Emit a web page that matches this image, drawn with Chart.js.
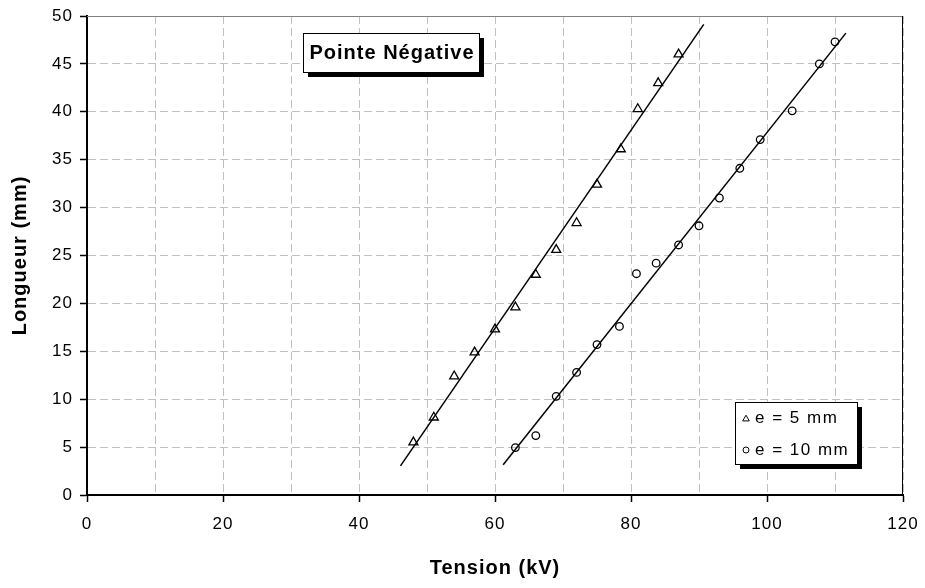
<!DOCTYPE html>
<html>
<head>
<meta charset="utf-8">
<script src="https://cdn.jsdelivr.net/npm/chart.js@4.4.1/dist/chart.umd.min.js"></script>
<style>
  html, body { margin: 0; padding: 0; background: #fff; }
  #wrap { width: 925px; height: 588px; }
</style>
</head>
<body>
<div id="wrap"><canvas id="chart" width="925" height="588"></canvas></div>
<script>
// data
const tension5 = [48, 51, 54, 57, 60, 63, 66, 69, 72, 75, 78.5, 81, 84, 87];
const longueur5 = [5.5, 8.1, 12.4, 14.9, 17.3, 19.6, 23.0, 25.6, 28.4, 32.4, 36.1, 40.3, 43.0, 46.0];
const tension10 = [63, 66, 69, 72, 75, 78.3, 80.8, 83.7, 87, 90, 93, 96, 99, 103.7, 107.7, 110];
const longueur10 = [4.95, 6.2, 10.3, 12.8, 15.7, 17.6, 23.1, 24.2, 26.1, 28.1, 31.0, 34.1, 37.1, 40.1, 45.0, 47.3];
const seriesLabels = ["e = 5 mm", "e = 10 mm"];
const chartTitle = "Pointe Négative";
const xTitle = "Tension (kV)";
const yTitle = "Longueur (mm)";
// trendline forecast (backward, forward) in kV, like Excel
const forecast5 = [1.9, 3.7];
const forecast10 = [1.8, 1.6];

const FONT = "Arial, 'Liberation Sans', sans-serif";

function zip(xs, ys) {
  return xs.map((v, i) => ({ x: v, y: ys[i] }));
}

// least squares line, drawn over the data range plus forecast
function trend(xs, ys, fc) {
  const n = xs.length;
  const mx = xs.reduce((a, b) => a + b, 0) / n;
  const my = ys.reduce((a, b) => a + b, 0) / n;
  let sxy = 0, sxx = 0;
  for (let i = 0; i < n; i++) {
    sxy += (xs[i] - mx) * (ys[i] - my);
    sxx += (xs[i] - mx) * (xs[i] - mx);
  }
  const b = sxy / sxx;
  const a = my - b * mx;
  const x0 = Math.min(...xs) - fc[0];
  const x1 = Math.max(...xs) + fc[1];
  return [{ x: x0, y: a + b * x0 }, { x: x1, y: a + b * x1 }];
}

function shadowBox(ctx, l, t, w, h) {
  ctx.fillStyle = "#000";
  ctx.fillRect(l + 5, t + 5, w, h);
  ctx.fillStyle = "#fff";
  ctx.fillRect(l, t, w, h);
  ctx.strokeStyle = "#000";
  ctx.lineWidth = 1;
  ctx.strokeRect(l + 0.5, t + 0.5, w, h);
}

// the Excel text is set a bit wider than Arial
const spacing = {
  id: "spacing",
  beforeDraw(chart) {
    chart.ctx.letterSpacing = "1px";
  }
};

const boxes = {
  id: "boxes",
  afterDraw(chart) {
    const { ctx, chartArea: ca, scales: { x, y } } = chart;
    ctx.save();
    // frame top + right
    ctx.lineWidth = 1;
    ctx.strokeStyle = "#808080";
    ctx.beginPath();
    ctx.moveTo(ca.left, ca.top + 0.5);
    ctx.lineTo(ca.right, ca.top + 0.5);
    ctx.stroke();
    ctx.strokeStyle = "#000";
    ctx.beginPath();
    ctx.moveTo(ca.right - 0.5, ca.top);
    ctx.lineTo(ca.right - 0.5, ca.bottom);
    ctx.stroke();

    // title box
    ctx.letterSpacing = "1px";
    ctx.font = "bold 20px " + FONT;
    let l = Math.round(x.getPixelForValue(31.8));
    let t = Math.round(y.getPixelForValue(48.2));
    shadowBox(ctx, l, t, 176, 39);
    ctx.fillStyle = "#000";
    ctx.textAlign = "center";
    ctx.textBaseline = "middle";
    ctx.fillText(chartTitle, l + 89, t + 20);

    // legend box
    l = Math.round(x.getPixelForValue(95.35));
    t = Math.round(y.getPixelForValue(9.7));
    shadowBox(ctx, l, t, 122, 62);
    ctx.letterSpacing = "1.5px";
    ctx.font = "17px " + FONT;
    ctx.textAlign = "left";
    const ds = chart.data.datasets;
    [0, 1].forEach((i) => {
      const cy = t + 16 + i * 32;
      ctx.fillStyle = "#fff";
      ctx.strokeStyle = "#000";
      Chart.helpers.drawPoint(ctx, {
        pointStyle: ds[i].pointStyle,
        radius: i === 0 ? 3.8 : 3,
        borderWidth: 1.2
      }, l + 11, cy + (i === 0 ? 1 : 0));
      ctx.fillStyle = "#000";
      ctx.fillText(ds[i].label, l + 20, cy);
    });
    ctx.restore();
  }
};

const gridColor = "#c0c0c0";

new Chart(document.getElementById("chart"), {
  type: "scatter",
  data: {
    datasets: [
      {
        label: seriesLabels[0],
        data: zip(tension5, longueur5),
        pointStyle: "triangle",
        pointRadius: 5.2,
        borderColor: "#000",
        backgroundColor: "transparent",
        borderWidth: 1.3
      },
      {
        label: seriesLabels[1],
        data: zip(tension10, longueur10),
        pointStyle: "circle",
        pointRadius: 3.8,
        borderColor: "#000",
        backgroundColor: "transparent",
        borderWidth: 1.3
      },
      {
        label: "trend5",
        data: trend(tension5, longueur5, forecast5),
        showLine: true,
        pointRadius: 0,
        borderColor: "#000",
        borderWidth: 1.5
      },
      {
        label: "trend10",
        data: trend(tension10, longueur10, forecast10),
        showLine: true,
        pointRadius: 0,
        borderColor: "#000",
        borderWidth: 1.5
      }
    ]
  },
  options: {
    responsive: false,
    animation: false,
    devicePixelRatio: 1,
    layout: { padding: { top: 16, right: 22, left: 0, bottom: 0 } },
    plugins: {
      legend: { display: false },
      tooltip: { enabled: false }
    },
    scales: {
      x: {
        type: "linear",
        min: 0,
        max: 120,
        afterFit: (s) => {
          s.height = 93;
          s.paddingLeft = 0;
          s.paddingRight = 0;
        },
        ticks: {
          stepSize: 10,
          autoSkip: false,
          maxRotation: 0,
          padding: 12,
          color: "#000",
          font: { family: FONT, size: 17 },
          callback: (v) => (v % 20 === 0 ? v : "")
        },
        grid: {
          color: gridColor,
          tickLength: 7,
          tickColor: (c) => (c.tick && c.tick.value % 20 === 0 ? "#000" : "transparent"),
          tickWidth: 1.5
        },
        border: { color: "#000", width: 2, dash: [8, 4] },
        title: {
          display: true,
          text: xTitle,
          color: "#000",
          font: { family: FONT, size: 20, weight: "bold" },
          padding: { top: 0, bottom: 8 }
        }
      },
      y: {
        min: 0,
        max: 50,
        afterFit: (s) => {
          s.width = 87;
          s.paddingTop = 0;
          s.paddingBottom = 0;
        },
        ticks: {
          stepSize: 5,
          padding: 7,
          color: "#000",
          font: { family: FONT, size: 17 }
        },
        grid: {
          color: gridColor,
          tickLength: 7,
          tickColor: "#000",
          tickWidth: 1.5
        },
        border: { color: "#000", width: 2, dash: [8, 4] },
        title: {
          display: true,
          text: yTitle,
          color: "#000",
          font: { family: FONT, size: 20, weight: "bold" },
          padding: { top: 8, bottom: 0 }
        }
      }
    }
  },
  plugins: [spacing, boxes]
});
</script>
</body>
</html>
